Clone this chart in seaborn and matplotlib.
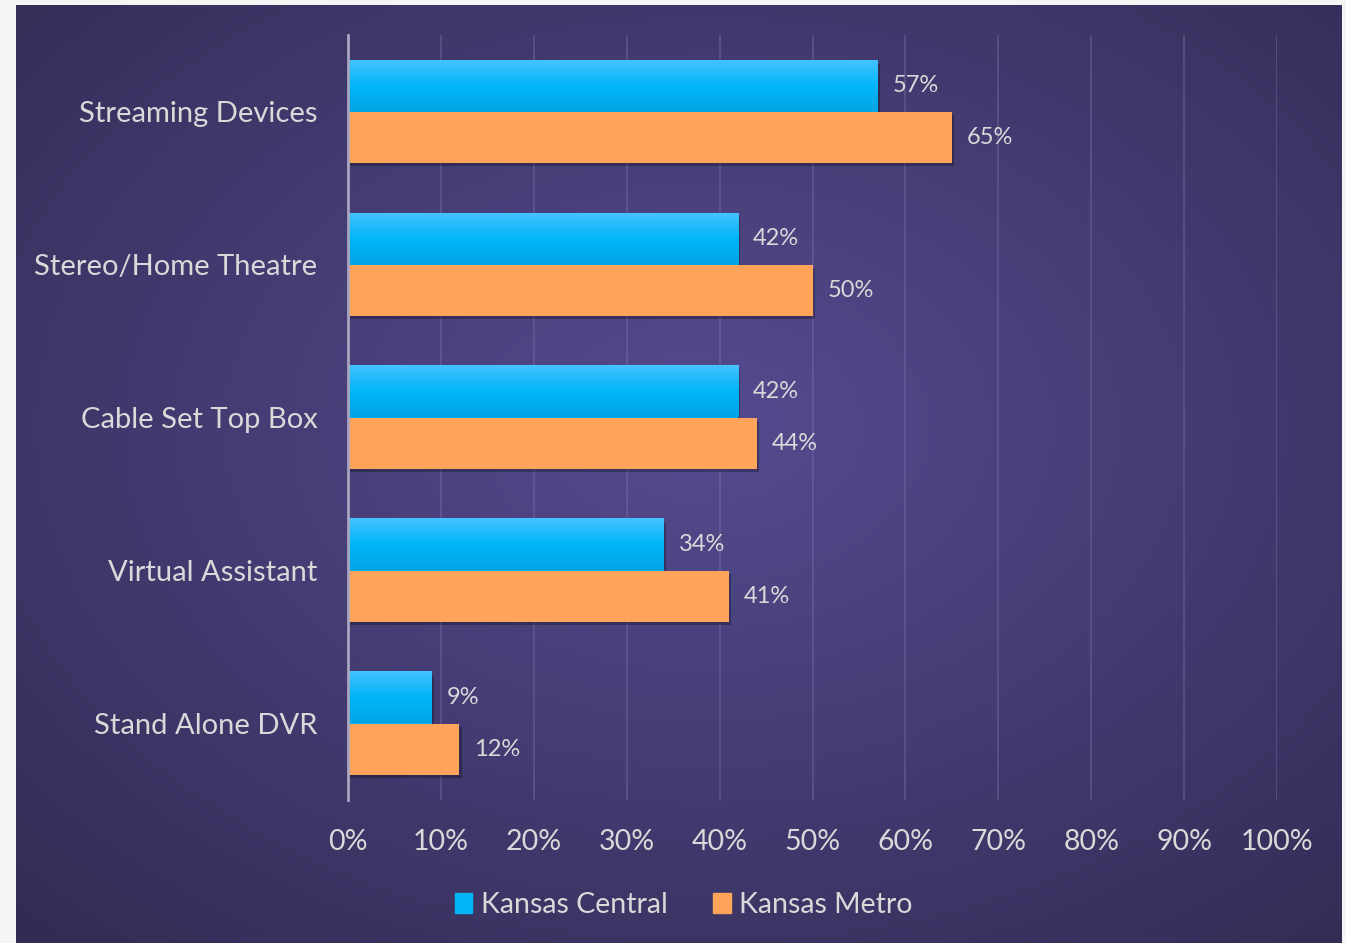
import matplotlib
matplotlib.use('Agg')
import matplotlib.pyplot as plt
import matplotlib.patheffects as pe
import numpy as np
import pandas as pd
import seaborn as sns

# 数据
categories = ['Streaming Devices', 'Stereo/Home Theatre', 'Cable Set Top Box',
              'Virtual Assistant', 'Stand Alone DVR']
kansas_central = [57, 42, 42, 34, 9]
kansas_metro = [65, 50, 44, 41, 12]
series_names = ['Kansas Central', 'Kansas Metro']
x_ticks = [0, 10, 20, 30, 40, 50, 60, 70, 80, 90, 100]

TEXT = '#d9d9d9'
BLUE = '#00b4f6'
ORANGE = '#fda35a'

df = pd.DataFrame({
    'category': categories * 2,
    'value': kansas_central + kansas_metro,
    'series': [series_names[0]] * len(categories) + [series_names[1]] * len(categories),
})

sns.set_theme(style='white')
plt.rcParams['font.family'] = ['Lato', 'DejaVu Sans']

fig = plt.figure(figsize=(13.46, 9.43), dpi=100)
fig.patch.set_facecolor('#f5f5f5')

# 背景：径向渐变面板
bg = fig.add_axes([16 / 1346, 0, 1326 / 1346, 938 / 943], zorder=-10)
yy, xx = np.mgrid[0:1:300j, 0:1:400j]
r = np.sqrt(((xx - 0.52) / 0.75) ** 2 + ((yy - 0.45) / 0.75) ** 2)
r = np.clip(r, 0, 1)
inner = np.array([0x55, 0x4b, 0x90]) / 255
outer = np.array([0x32, 0x2c, 0x54]) / 255
img = inner[None, None, :] * (1 - r[..., None]) + outer[None, None, :] * r[..., None]
bg.imshow(img, aspect='auto', extent=[0, 1, 0, 1], origin='upper')
bg.set_axis_off()

ax = fig.add_axes([348 / 1346, 1 - 800 / 943, 929 / 1346, 765 / 943])
ax.patch.set_alpha(0)

sns.barplot(data=df, y='category', x='value', hue='series', orient='h',
            palette=[BLUE, ORANGE], width=0.667, ax=ax, legend=False,
            saturation=1, zorder=3)

shadow = [pe.SimplePatchShadow(offset=(1.5, -2.5), shadow_rgbFace='black', alpha=0.28),
          pe.Normal()]
grad = np.linspace(0, 1, 64)[:, None]
blue_top = np.array([0x45, 0xc2, 0xff]) / 255
blue_mid = np.array([0x00, 0xb6, 0xf9]) / 255
blue_bot = np.array([0x00, 0xa4, 0xe4]) / 255
blue_grad = np.where(grad < 0.5,
                     blue_top + (blue_mid - blue_top) * (grad / 0.5),
                     blue_mid + (blue_bot - blue_mid) * ((grad - 0.5) / 0.5))
blue_grad = blue_grad[:, None, :]

for i, container in enumerate(ax.containers):
    for bar in container:
        bar.set_edgecolor('none')
        bar.set_path_effects(shadow)
        x0, y0 = bar.get_x(), bar.get_y()
        w, h = bar.get_width(), bar.get_height()
        if i == 0:
            # 蓝色条渐变
            ax.imshow(blue_grad, extent=[x0, x0 + w, y0 + h, y0], aspect='auto',
                      zorder=4, interpolation='bilinear')
        ax.text(x0 + w + 1.6, y0 + h / 2, f'{w:.0f}%', va='center', ha='left',
                color=TEXT, fontsize=17, zorder=5)

ax.set_xlim(0, 100)
ax.set_ylim(len(categories) - 0.5, -0.5)
ax.set_xticks(x_ticks)
ax.set_xticklabels([f'{t}%' for t in x_ticks])
ax.tick_params(axis='x', length=0, pad=21, labelsize=20.5, labelcolor=TEXT)
ax.tick_params(axis='y', length=0, pad=22, labelsize=21, labelcolor=TEXT)
ax.set_xlabel('')
ax.set_ylabel('')
ax.grid(axis='x', color='#7a72aa', alpha=0.45, linewidth=1.2, zorder=0)
ax.set_axisbelow(True)
for side in ['top', 'right', 'bottom']:
    ax.spines[side].set_visible(False)
ax.spines['left'].set_color('#a8a6c0')
ax.spines['left'].set_linewidth(2)
ax.spines['left'].set_zorder(6)

handles = [plt.Rectangle((0, 0), 1, 1, color=BLUE), plt.Rectangle((0, 0), 1, 1, color=ORANGE)]
leg = fig.legend(handles, series_names, loc='center', ncol=2, frameon=False,
                 bbox_to_anchor=(684 / 1346, 1 - 905 / 943), fontsize=20.5,
                 handlelength=0.6, handleheight=0.7, handletextpad=0.3, columnspacing=1.6)
for t in leg.get_texts():
    t.set_color(TEXT)

fig.savefig('out.png', dpi=100)
